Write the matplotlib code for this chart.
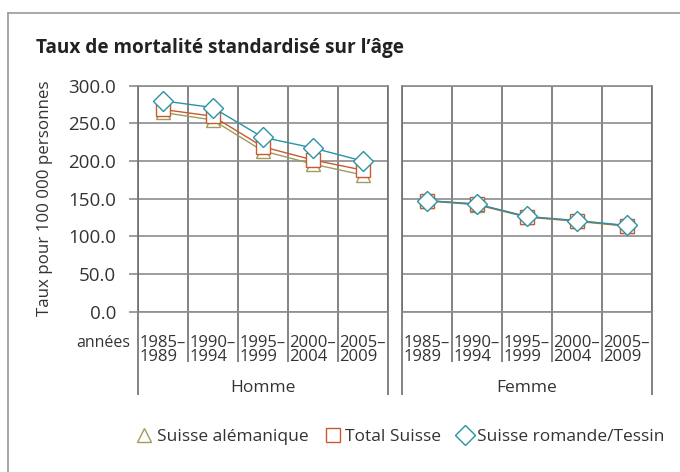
import matplotlib.pyplot as plt
from matplotlib.lines import Line2D

plt.rcParams["font.family"] = ["Open Sans", "DejaVu Sans"]

# data
periodes = ["1985–\n1989", "1990–\n1994", "1995–\n1999", "2000–\n2004", "2005–\n2009"]
sexes = ["Homme", "Femme"]
alemanique = {"Homme": [264.5, 254.5, 213.5, 196.0, 181.5],
              "Femme": [147.0, 142.0, 125.5, 120.0, 113.5]}
total = {"Homme": [268.5, 259.5, 219.0, 201.5, 188.0],
         "Femme": [147.5, 142.5, 126.0, 120.5, 114.0]}
romande = {"Homme": [280.0, 271.0, 231.5, 217.5, 200.0],
           "Femme": [147.5, 143.0, 126.5, 121.0, 114.5]}

series = [
    ("Suisse alémanique", alemanique, "#a09c5c", "^", 10),
    ("Total Suisse", total, "#c95a30", "s", 10),
    ("Suisse romande/Tessin", romande, "#2a93a6", "D", 10),
]

W, H = 680, 472
vgrid_c = "#6e6e6e"
hgrid_c = "#8c8c8c"
txt_c = "#333333"

fig = plt.figure(figsize=(W / 100, H / 100), dpi=100)

# frame of the picture (top and left only)
fig.add_artist(Line2D([8 / W, 8 / W], [0, 1 - 13 / H], color="#9a9a9a", lw=1.2))
fig.add_artist(Line2D([8 / W, 1], [1 - 13 / H, 1 - 13 / H], color="#9a9a9a", lw=1.2))

fig.text(36 / W, 1 - 48 / H, "Taux de mortalité standardisé sur l’âge",
         fontsize=13.7, fontweight="bold", color="#222222", va="center")

lefts = [137.7, 401.7]
bottom = 311.7
for k, sexe in enumerate(sexes):
    ax = fig.add_axes([lefts[k] / W, 1 - bottom / H, 250 / W, 226 / H])
    xs = [i + 0.5 for i in range(len(periodes))]
    for name, data, col, mk, ms in series:
        ax.plot(xs, data[sexe], color=col, lw=1.0, marker=mk, ms=ms,
                mfc="white", mec=col, mew=1.0, label=name, zorder=3)
    ax.set_xlim(0, 5)
    ax.set_ylim(0, 300)
    ax.set_yticks(range(0, 301, 50))
    ax.set_xticks([1, 2, 3, 4])
    ax.set_xticks([0, 5], minor=True)
    ax.grid(True, axis="x", which="both", color=vgrid_c, lw=1.2)
    ax.grid(True, axis="y", which="major", color=hgrid_c, lw=1.2)
    for side, s in ax.spines.items():
        s.set_color(vgrid_c if side in ("left", "right") else hgrid_c)
        s.set_linewidth(1.2)
    ax.tick_params(axis="x", which="major", length=36, width=1.2, color=vgrid_c,
                   labelbottom=False)
    ax.tick_params(axis="x", which="minor", length=60, width=1.2, color=vgrid_c,
                   labelbottom=False)
    if k == 0:
        ax.set_yticklabels([f"{v:.1f}" for v in range(0, 301, 50)])
        ax.tick_params(axis="y", length=6.5, width=1.2, color=hgrid_c,
                       labelsize=13.5, labelcolor=txt_c, pad=9)
        ax.set_ylabel("Taux pour 100 000 personnes", fontsize=12.2, color=txt_c,
                      labelpad=11)
        ax.text(-0.03, -0.105, "années", transform=ax.transAxes, ha="right",
                va="top", fontsize=11.5, color=txt_c)
    else:
        ax.tick_params(axis="y", length=0, labelleft=False)
    for i, p in enumerate(periodes):
        ax.text(i + 0.03, -0.103, p, transform=ax.get_xaxis_transform(),
                ha="left", va="top", fontsize=12, color=txt_c, linespacing=0.85)
    ax.text(0.5, -0.338, sexe, transform=ax.transAxes, ha="center", va="center",
            fontsize=12.5, color=txt_c)

handles = [Line2D([], [], ls="none", marker=mk, ms=ms, mfc="white", mec=col,
                  mew=1.0, label=name) for name, _, col, mk, ms in series]
fig.legend(handles=handles, loc="center", bbox_to_anchor=(401 / W, 1 - 437 / H),
           ncol=3, frameon=False, fontsize=12.5, handlelength=0.8,
           handletextpad=0.3, columnspacing=1.0, labelcolor=txt_c)

fig.savefig("out.png", dpi=100)
